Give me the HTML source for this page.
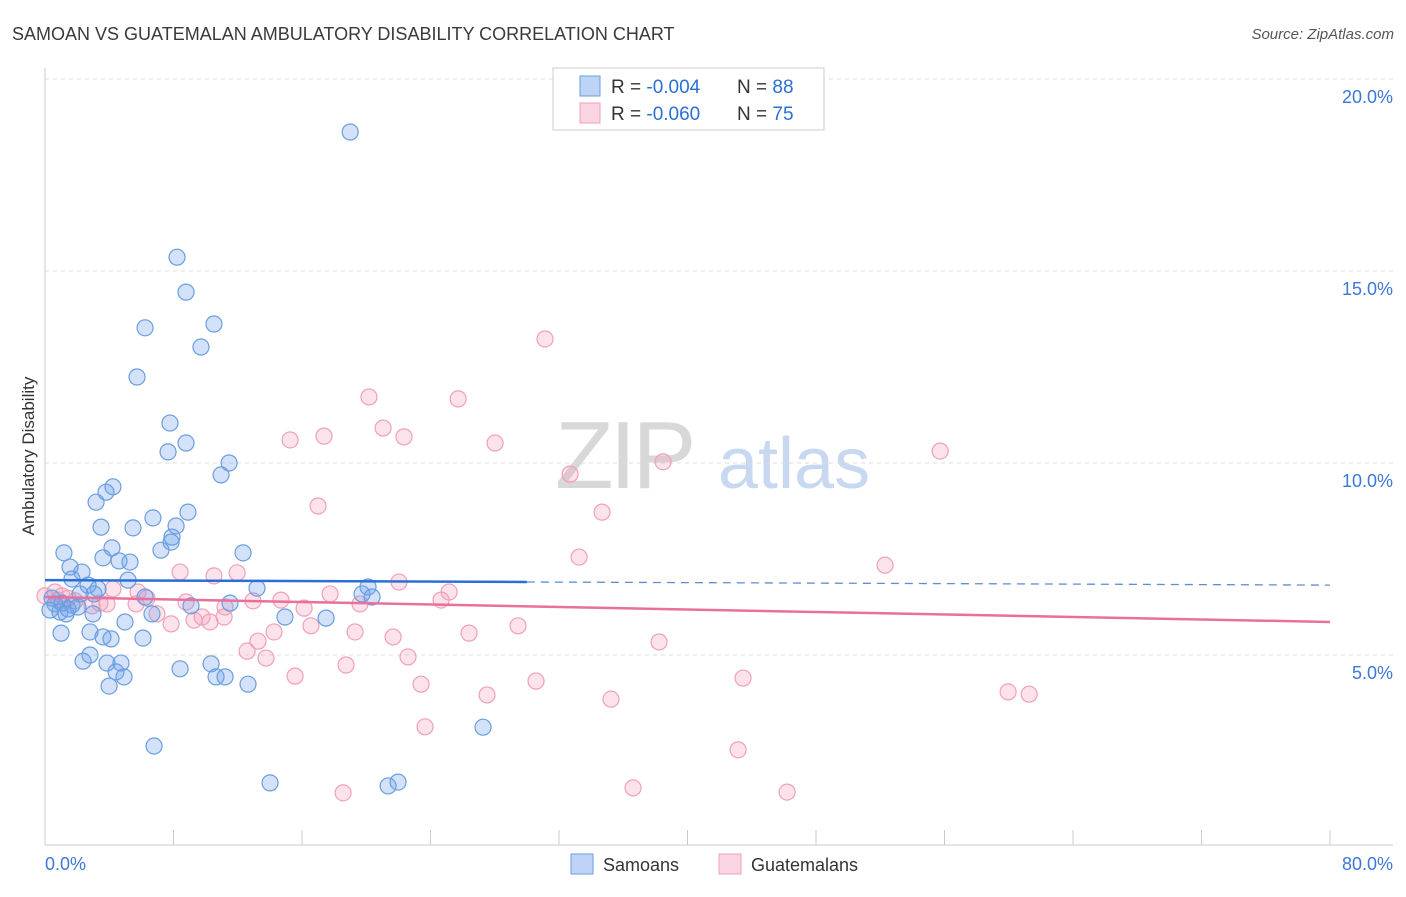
<!DOCTYPE html>
<html><head><meta charset="utf-8"><style>
body{margin:0;background:#fff;font-family:"Liberation Sans",sans-serif;}
svg text{font-family:"Liberation Sans",sans-serif;}
</style></head><body>
<svg width="1406" height="892" viewBox="0 0 1406 892" xmlns="http://www.w3.org/2000/svg">
<text x="12" y="40" font-size="18" fill="#3a3a3a">SAMOAN VS GUATEMALAN AMBULATORY DISABILITY CORRELATION CHART</text>
<text x="1394" y="39" font-size="15" fill="#555" text-anchor="end" font-style="italic">Source: ZipAtlas.com</text>
<g>
<text x="555" y="488" font-size="96" fill="#d8d8d8" font-family="Liberation Serif" letter-spacing="-4">ZIP</text>
<text x="718" y="488" font-size="72" fill="#c8d8f0">atlas</text>
</g>
<g id="grid"></g>
<g id="axes"></g>
<g id="marks"></g>
<g id="trends"></g>
<g>
<rect x="553" y="68" width="271" height="62" fill="#fff" stroke="#ccc"/>
<rect x="580" y="76" width="20" height="20" fill="rgba(110,160,235,0.45)" stroke="#6a9ee0"/>
<rect x="580" y="103" width="20" height="20" fill="rgba(245,160,190,0.45)" stroke="#f0a0b8"/>
<text x="611" y="93" font-size="19" fill="#333">R = <tspan fill="#2a6fd6">-0.004</tspan></text>
<text x="737" y="93" font-size="19" fill="#333">N = <tspan fill="#2a6fd6">88</tspan></text>
<text x="611" y="120" font-size="19" fill="#333">R = <tspan fill="#2a6fd6">-0.060</tspan></text>
<text x="737" y="120" font-size="19" fill="#333">N = <tspan fill="#2a6fd6">75</tspan></text>
</g>
<g>
<rect x="571" y="854" width="22" height="20" fill="rgba(110,160,235,0.45)" stroke="#6a9ee0"/>
<text x="603" y="871" font-size="18" fill="#333">Samoans</text>
<rect x="719" y="854" width="22" height="20" fill="rgba(245,160,190,0.45)" stroke="#f0a0b8"/>
<text x="751" y="871" font-size="18" fill="#333">Guatemalans</text>
</g>
<text transform="translate(34,456) rotate(-90)" font-size="17" fill="#333" text-anchor="middle">Ambulatory Disability</text>
</svg>
<script>
const yTicks=[5,10,15,20];
const yTickLabels=["5.0%","10.0%","15.0%","20.0%"];
const xTickValues=[0,8,16,24,32,40,48,56,64,72,80];
const xEndLabels=["0.0%","80.0%"];
const samoanX=[19.0,8.22,8.78,6.23,10.52,9.71,5.73,7.78,8.78,7.66,11.46,10.96,4.23,3.80,3.18,6.72,8.90,3.49,5.48,8.16,7.91,7.85,7.22,1.18,12.33,4.17,3.61,4.61,5.29,1.56,2.30,1.68,5.17,2.68,3.30,13.20,20.11,3.05,2.18,19.74,20.36,6.23,0.44,0.62,1.06,1.68,2.05,1.43,0.31,0.93,1.31,2.99,9.09,11.52,14.94,17.50,6.66,4.98,1.0,2.80,3.61,4.11,6.10,2.80,2.37,3.86,4.73,10.34,8.41,4.42,4.92,10.65,11.21,3.99,12.64,27.27,6.79,14.01,21.36,21.98];
const samoanY=[18.62,15.36,14.45,13.52,13.62,13.02,12.24,11.04,10.52,10.29,10.0,9.69,9.38,9.24,8.98,8.57,8.72,8.33,8.31,8.36,8.07,7.94,7.73,7.66,7.66,7.79,7.53,7.45,7.42,7.29,7.16,6.98,6.95,6.82,6.72,6.74,6.77,6.59,6.59,6.59,6.51,6.51,6.48,6.33,6.35,6.30,6.25,6.20,6.17,6.12,6.07,6.07,6.28,6.35,5.99,5.96,6.07,5.86,5.57,5.60,5.47,5.42,5.44,5.0,4.84,4.79,4.79,4.77,4.64,4.56,4.43,4.43,4.43,4.19,4.24,3.12,2.63,1.67,1.59,1.69];
const guatX=[31.13,20.17,25.72,21.05,15.26,17.37,22.35,28.02,55.73,38.48,32.69,17.0,34.68,33.25,52.30,8.41,10.52,11.96,22.04,17.75,25.16,24.66,4.23,5.79,6.35,1.06,0.81,1.87,3.42,3.86,2.93,5.67,8.78,11.21,12.95,14.69,19.61,16.13,6.97,9.78,9.28,10.27,11.15,7.85,16.56,19.30,14.26,26.40,29.45,21.67,13.26,12.58,13.76,22.60,38.23,18.74,15.57,23.41,30.57,43.46,27.52,35.24,59.96,61.27,23.66,43.15,36.61,18.56,46.20,0.62,0.0,1.43];
const guatY=[13.23,11.72,11.67,10.91,10.60,10.70,10.68,10.52,10.31,10.03,9.71,8.88,8.72,7.55,7.34,7.16,7.06,7.14,6.90,6.59,6.64,6.43,6.72,6.64,6.48,6.54,6.43,6.41,6.35,6.33,6.28,6.33,6.38,6.25,6.41,6.43,6.33,6.22,6.07,5.99,5.91,5.86,5.99,5.81,5.76,5.60,5.60,5.57,5.76,5.47,5.36,5.10,4.92,4.95,5.34,4.74,4.45,4.24,4.32,4.40,3.96,3.85,4.04,3.98,3.13,2.53,1.54,1.41,1.43,6.64,6.54,6.48];
const samoanTrend=[6.95,6.82];
const guatTrend=[6.51,5.86];
const samoanSolidEnd=30;

const NS="http://www.w3.org/2000/svg";
const X0=45,X1=1330,Y0=847,PXY=38.4;
function sx(v){return X0+(X1-X0)*v/80;}
function sy(v){return Y0-v*PXY;}
function mk(tag,attrs,parent){const e=document.createElementNS(NS,tag);for(const k in attrs)e.setAttribute(k,attrs[k]);parent.appendChild(e);return e;}
const gridG=document.getElementById('grid'),axesG=document.getElementById('axes'),marksG=document.getElementById('marks'),trendsG=document.getElementById('trends');
yTicks.forEach((t,i)=>{
  const l=mk('line',{x1:X0,x2:1393,y1:sy(t),y2:sy(t),stroke:'#ddd','stroke-dasharray':'4,4'},gridG);
  
  
  const tx=mk('text',{x:1393,y:sy(t)+24,'font-size':18,fill:'#3b78d8','text-anchor':'end'},axesG);
  tx.textContent=yTickLabels[i];
  
  
});
const topGrid=mk('line',{x1:X0,x2:1393,y1:79,y2:79,stroke:'#ddd','stroke-dasharray':'4,4'},gridG);


const ya=mk('line',{x1:X0,x2:X0,y1:68,y2:845,stroke:'#ccc'},axesG);


const xa=mk('line',{x1:X0,x2:1393,y1:845,y2:845,stroke:'#ccc'},axesG);


xTickValues.forEach(t=>{
  const l=mk('line',{x1:sx(t),x2:sx(t),y1:830,y2:845,stroke:'#ccc'},axesG);
  
  
});
const xl0=mk('text',{x:X0,y:870,'font-size':18,fill:'#3b78d8'},axesG);xl0.textContent=xEndLabels[0];


const xl1=mk('text',{x:1393,y:870,'font-size':18,fill:'#3b78d8','text-anchor':'end'},axesG);xl1.textContent=xEndLabels[1];


guatX.forEach((x,i)=>{
  const c=mk('circle',{cx:sx(x),cy:sy(guatY[i]),r:8,fill:'rgba(245,160,190,0.3)',stroke:'#f0a0b8','stroke-width':1.2},marksG);
  
  
});
samoanX.forEach((x,i)=>{
  const c=mk('circle',{cx:sx(x),cy:sy(samoanY[i]),r:8,fill:'rgba(110,160,235,0.3)',stroke:'#6a9ee0','stroke-width':1.2},marksG);
  
  
});
function ty(tr,x){return tr[0]+(tr[1]-tr[0])*x/80;}
const bt=mk('line',{x1:sx(0),y1:sy(samoanTrend[0]),x2:sx(samoanSolidEnd),y2:sy(ty(samoanTrend,samoanSolidEnd)),stroke:'#2a6fd6','stroke-width':2.5},trendsG);


const bd=mk('line',{x1:sx(samoanSolidEnd),y1:sy(ty(samoanTrend,samoanSolidEnd)),x2:sx(80),y2:sy(samoanTrend[1]),stroke:'#5a8fd8','stroke-width':1.3,'stroke-dasharray':'8,6'},trendsG);


const pt=mk('line',{x1:sx(0),y1:sy(guatTrend[0]),x2:sx(80),y2:sy(guatTrend[1]),stroke:'#e8709a','stroke-width':2.5},trendsG);


</script>
</body></html>
